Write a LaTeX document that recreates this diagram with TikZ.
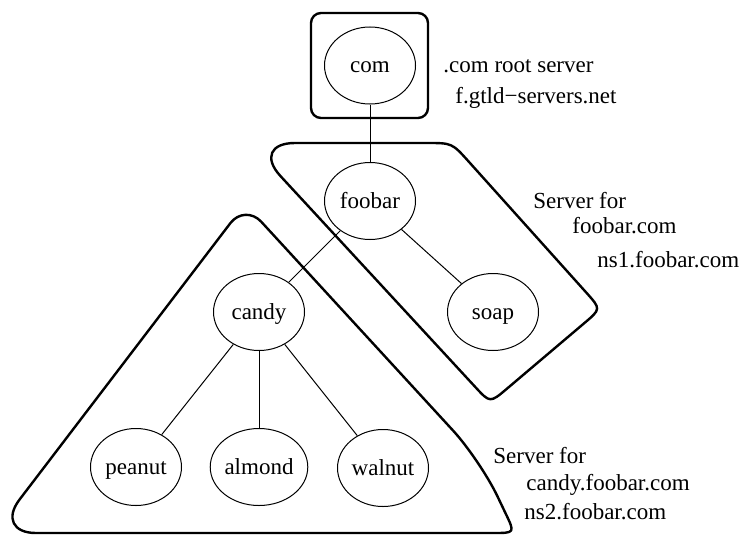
\documentclass[tikz,border=0pt]{standalone}
\usepackage{fontspec}
\setmainfont{Liberation Serif}
\usetikzlibrary{shapes.geometric}

\begin{document}
\begin{tikzpicture}[x=0.5pt,y=-0.5pt,line join=round,font=\fontsize{11.5}{14}\selectfont,
  dom/.style={draw,ellipse,line width=0.5pt,minimum width=45.5pt,minimum height=38.5pt,inner sep=0pt,text height=7.5pt,text depth=0.5pt},
  link/.style={line width=0.5pt},
  zone/.style={line width=1.2pt},
  note/.style={anchor=base west,inner sep=0pt}]
\useasboundingbox (0,0) rectangle (747,535);
% name servers' zones
\draw[zone,rounded corners=5pt] (311,13) rectangle (428,118);
\draw[zone] (370,143) -- (427,143) .. controls (452,143) .. (468.7,161.6) -- (586.3,292.6) .. controls (601,309) .. (584.2,323.2)
  -- (506.8,388.8) .. controls (490,403) .. (475.1,386.8) -- (280.5,176.1) .. controls (263.7,157.9) and (270.3,143) .. (295,143) -- cycle;
\draw[zone] (250,533) -- (36,533) .. controls (12.9,533) and (5.5,518) .. (19.5,499.6) -- (230.4,223.1) .. controls (238.4,212.6) and (252.3,212) .. (261.2,221.7)
  -- (453,430.5) .. controls (467.9,446.7) and (487.8,476.2) .. (497.3,496) -- (505.5,513.2) .. controls (515,533) .. (493,533) -- cycle;
% domain tree
\node[dom] (com) at (370,65.5){com};
\node[dom] (foobar) at (370,201){foobar}; \node[dom] (soap) at (493,312){soap};
\node[dom] (candy) at (259,312){candy};
\node[dom] (peanut) at (136,467){peanut}; \node[dom] (almond) at (259,467){almond}; \node[dom] (walnut) at (383,468){walnut};
\draw[link] (com)--(foobar); \draw[link] (foobar)--(soap); \draw[link] (foobar)--(candy);
\draw[link] (candy)--(peanut); \draw[link] (candy)--(almond); \draw[link] (candy)--(walnut);
% labels
\node[note] (rootname) at (443,73){.com root server}; \node[note] (roothost) at (455,103){f.gtld−servers.net};
\node[note] (fooname) at (533,208){Server for}; \node[note] (foozone) at (572,233){foobar.com}; \node[note] (foohost) at (597,267){ns1.foobar.com};
\node[note] (candyname) at (493,463){Server for}; \node[note] (candyzone) at (526,490){candy.foobar.com}; \node[note] (candyhost) at (524,519){ns2.foobar.com};
\end{tikzpicture}
\end{document}
